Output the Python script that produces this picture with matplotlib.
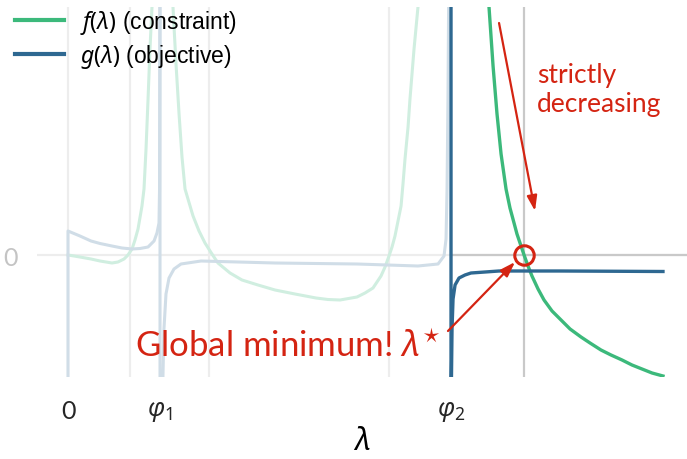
import matplotlib
matplotlib.use("Agg")
import matplotlib.pyplot as plt

plt.rcParams["font.family"] = ["Lato", "DejaVu Sans"]
plt.rcParams["mathtext.fontset"] = "custom"
plt.rcParams["mathtext.it"] = "Noto Sans:italic"
plt.rcParams["mathtext.rm"] = "Noto Sans"
plt.rcParams["lines.solid_joinstyle"] = "round"

# pole / root locations on the lambda axis
PHI1 = 1.0
PHI2 = 4.163
LAM_STAR = 4.957

# f(lambda), constraint: pieces
f_lam_a = [0.0, 0.130, 0.250, 0.348, 0.478, 0.543, 0.609, 0.652, 0.696, 0.728, 0.761, 0.804,
           0.826, 0.848, 0.870, 0.891, 0.913, 0.924]
f_val_a = [0.0, -0.02, -0.04, -0.06, -0.08, -0.07, -0.04, 0.0, 0.06, 0.15, 0.26, 0.49,
           0.66, 1.06, 1.56, 2.06, 2.48, 3.06]

f_lam_b = [1.120, 1.141, 1.174, 1.207, 1.239, 1.272, 1.359, 1.424, 1.489, 1.565, 1.630,
           1.761, 1.891, 2.065, 2.250, 2.467, 2.696, 2.826, 2.957, 3.141, 3.228, 3.315,
           3.402, 3.446, 3.489, 3.522, 3.554, 3.587, 3.620, 3.641, 3.663, 3.696, 3.717,
           3.761, 3.804, 3.826]
f_val_b = [3.06, 2.48, 1.91, 1.41, 0.98, 0.66, 0.39, 0.24, 0.12, 0.01, -0.08,
           -0.18, -0.25, -0.30, -0.35, -0.39, -0.43, -0.445, -0.45, -0.42, -0.38, -0.33,
           -0.21, -0.12, -0.01, 0.08, 0.19, 0.34, 0.49, 0.71, 0.96, 1.28, 1.56,
           2.06, 2.48, 3.06]

f_lam_c = [4.554, 4.576, 4.620, 4.663, 4.707, 4.761, 4.804, 4.848, 4.880, 4.913, 4.957,
           5.000, 5.043, 5.109, 5.174, 5.261, 5.359, 5.457, 5.576, 5.674, 5.793, 5.902,
           6.022, 6.130, 6.239, 6.348, 6.467]
f_val_c = [3.06, 2.48, 1.89, 1.41, 1.01, 0.66, 0.47, 0.32, 0.21, 0.12, 0.0,
           -0.11, -0.21, -0.34, -0.45, -0.56, -0.65, -0.74, -0.82, -0.88, -0.95, -1.00,
           -1.05, -1.10, -1.14, -1.18, -1.21]

# g(lambda), objective
g_lam_a = [0.0, 0.0, 0.130, 0.250, 0.348, 0.478, 0.587, 0.696, 0.783, 0.870, 0.935, 0.967,
           0.989, 0.995, 1.0]
g_val_a = [-2.0, 0.24, 0.19, 0.14, 0.115, 0.09, 0.07, 0.06, 0.065, 0.08, 0.14, 0.22,
           0.32, 0.66, 3.0]

g_lam_b = [1.0, 1.0, 1.022, 1.043, 1.065, 1.098, 1.152, 1.228, 1.446, 2.250, 3.141, 3.804,
           4.022, 4.087, 4.109, 4.120, 4.130, 4.141]
g_val_b = [3.0, -2.0, -1.64, -0.74, -0.39, -0.23, -0.14, -0.09, -0.06, -0.08, -0.09, -0.11,
           -0.09, -0.01, 0.16, 0.66, 1.56, 3.06]

g_lam_c = [4.163, 4.163, 4.168, 4.174, 4.185, 4.207, 4.250, 4.315, 4.380, 4.533, 4.685,
           5.348, 6.467]
g_val_c = [3.06, -1.3, -1.22, -0.74, -0.44, -0.30, -0.23, -0.20, -0.18, -0.17, -0.16,
           -0.16, -0.165]

GREEN = "#3cb97b"
BLUE = "#2e6891"
GREEN_FADE = "#d0eee0"
BLUE_FADE = "#d0dde7"
RED = "#d42412"

fig = plt.figure(figsize=(6.87, 4.60), dpi=100)
ax = fig.add_axes([37 / 687, 1 - 378 / 460, 650 / 687, 370 / 460])

# light grid
for gx in [0.0, 0.674, 1.533, 3.49]:
    ax.axvline(gx, color="#ededed", lw=1.6, zorder=0)
ax.axhline(0, color="#ededed", lw=1.6, zorder=0)
# reference lines right of phi2
ax.axvline(LAM_STAR, color="#c9c9c9", lw=1.6, zorder=1)
ax.plot([PHI2, 6.8], [0, 0], color="#c9c9c9", lw=1.6, zorder=1)

# faded parts (left of phi2)
ax.plot(f_lam_a, f_val_a, color=GREEN_FADE, lw=2.2, zorder=2)
ax.plot(f_lam_b, f_val_b, color=GREEN_FADE, lw=2.2, zorder=2)
ax.plot(g_lam_a, g_val_a, color=BLUE_FADE, lw=2.2, zorder=2)
ax.plot(g_lam_b, g_val_b, color=BLUE_FADE, lw=2.2, zorder=2)

# active branch
ax.plot(f_lam_c, f_val_c, color=GREEN, lw=2.4, zorder=3, label=r"$f(\lambda)$ (constraint)")
ax.plot(g_lam_c, g_val_c, color=BLUE, lw=2.4, zorder=3, label=r"$g(\lambda)$ (objective)")

# global minimum marker
ax.plot([LAM_STAR], [0.0], marker="o", ms=14, mfc="none", mec=RED, mew=2.2, zorder=5)

arrow = dict(arrowstyle="-|>,head_length=0.9,head_width=0.3", color=RED, lw=1.6,
             shrinkA=0, shrinkB=0)
ax.annotate("", xy=(5.076, 0.44), xytext=(4.685, 2.32), arrowprops=arrow, zorder=6)
ax.annotate("", xy=(4.859, -0.07), xytext=(4.130, -0.76), arrowprops=arrow, zorder=6)
ax.text(5.10, 1.93, "strictly\ndecreasing", color=RED, fontsize=19, ha="left", va="top",
        linespacing=1.22)
ax.text(4.05, -1.0, r"Global minimum! $\lambda^{\star}$", color=RED, fontsize=25,
        ha="right", va="baseline")

ax.set_xlim(-0.337, 6.728)
ax.set_ylim(-1.22, 2.48)
ax.set_xticks([0, PHI1, PHI2])
ax.set_xticklabels(["0", r"$\varphi_1$", r"$\varphi_2$"], fontsize=18, color="#262626")
ax.set_yticks([0])
ax.set_yticklabels(["0"], fontsize=18, color="#c4c4c4")
ax.tick_params(axis="both", length=0)
ax.tick_params(axis="x", pad=16)
ax.tick_params(axis="y", pad=14)
ax.set_xlabel(r"$\lambda$", fontsize=22, labelpad=2)
for s in ax.spines.values():
    s.set_visible(False)

leg = ax.legend(loc="upper left", bbox_to_anchor=(-0.065, 1.052), frameon=False,
                prop={"family": "Liberation Sans", "size": 16.5}, handlelength=2.14,
                handletextpad=0.7, labelspacing=0.23)
for h in leg.get_lines():
    h.set_linewidth(3)

fig.savefig("out.png", dpi=100)
